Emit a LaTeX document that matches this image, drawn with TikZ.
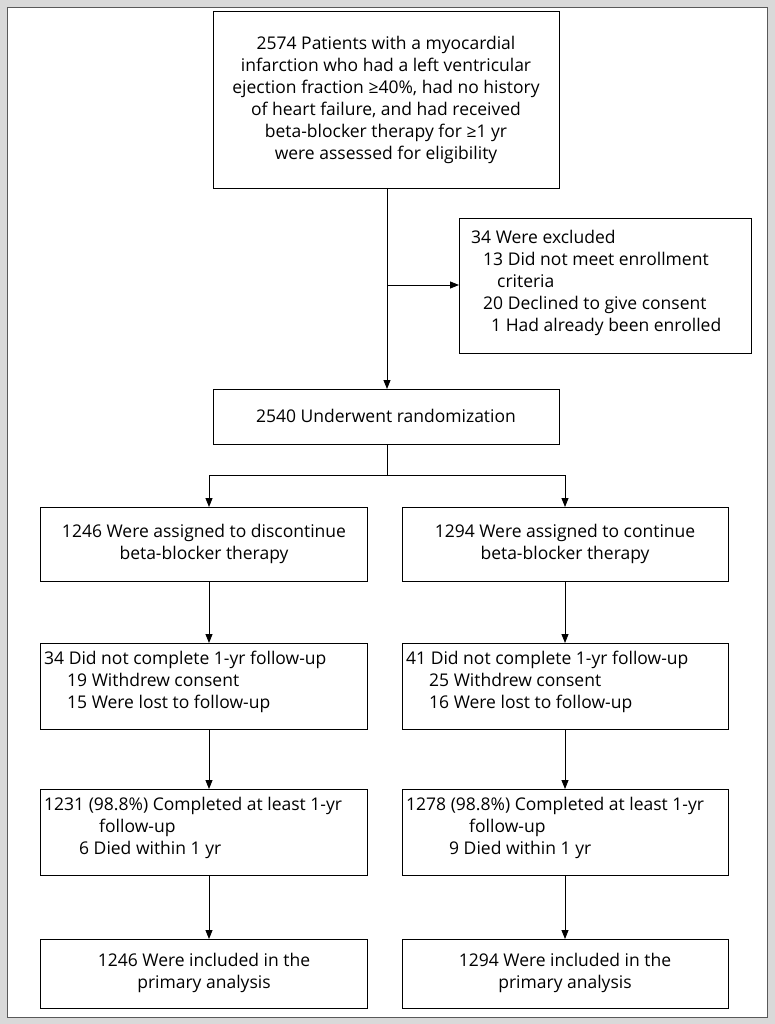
\documentclass[tikz,border=0pt]{standalone}
\usepackage{fontspec}
\setmainfont{Open Sans}
\usetikzlibrary{arrows.meta}
\begin{document}
\begin{tikzpicture}[x=1pt,y=-1pt,
  box/.style={draw=black,line width=0.9pt,fill=white},
  txt/.style={font=\fontsize{17.5}{22}\selectfont,align=center,inner sep=0pt},
  ltxt/.style={font=\fontsize{17.5}{22}\selectfont,align=left,inner sep=0pt,anchor=north west},
  arr/.style={line width=0.9pt,-{Triangle[length=9pt,width=7pt]}},
  ln/.style={line width=0.9pt}]
\fill[gray!30] (0,0) rectangle (775,1024);
\useasboundingbox (0,0) rectangle (775,1024);
\draw[fill=white,draw=gray!70!black,line width=0.8pt] (7,7) rectangle (767,1017);
% boxes
\draw[box] (213,11) rectangle (559,188);
\node[txt] (top) at (386,100) {2574 Patients with a myocardial\\infarction who had a left ventricular\\ejection fraction ≥40\%, had no history\\of heart failure, and had received\\beta-blocker therapy for ≥1 yr\\were assessed for eligibility};
\coordinate (topb) at (387,188);
\draw[box] (459,218) rectangle (751,353);
\coordinate (exl) at (459,285);
\node[ltxt] (ex) at (471,230) {34 Were excluded\\
\hspace*{12pt}13 Did not meet enrollment\\
\hspace*{26pt}criteria\\
\hspace*{12pt}20 Declined to give consent\\
\hspace*{20pt}1 Had already been enrolled};
\draw[box] (213,389) rectangle (559,444);
\node[txt] (rand) at (386,416) {2540 Underwent randomization};
\coordinate (randt) at (387,389);
\coordinate (randb) at (387,444);
\coordinate (br) at (387,285);
\coordinate (sp) at (387,475);
\coordinate (spl) at (209,475);
\coordinate (spr) at (565,475);
% row1
\draw[box] (40,507) rectangle (367,581);
\node[txt] (l1) at (204,544) {1246 Were assigned to discontinue\\beta-blocker therapy};
\draw[box] (402,507) rectangle (728,581);
\node[txt] (r1) at (565,544) {1294 Were assigned to continue\\beta-blocker therapy};
% row2
\draw[box] (40,643) rectangle (367,729);
\node[ltxt] (l2) at (44,651) {34 Did not complete 1-yr follow-up\\\hspace*{23pt}19 Withdrew consent\\\hspace*{23pt}15 Were lost to follow-up};
\draw[box] (402,643) rectangle (728,729);
\node[ltxt] (r2) at (406,651) {41 Did not complete 1-yr follow-up\\\hspace*{23pt}25 Withdrew consent\\\hspace*{23pt}16 Were lost to follow-up};
% row3
\draw[box] (40,789) rectangle (367,875);
\node[ltxt] (l3) at (44,797) {1231 (98.8\%) Completed at least 1-yr\\\hspace*{55pt}follow-up\\\hspace*{35pt}6 Died within 1 yr};
\draw[box] (402,789) rectangle (728,875);
\node[ltxt] (r3) at (406,797) {1278 (98.8\%) Completed at least 1-yr\\\hspace*{63pt}follow-up\\\hspace*{43pt}9 Died within 1 yr};
% row4
\draw[box] (40,939) rectangle (367,1008);
\node[txt] (l4) at (204,973) {1246 Were included in the\\primary analysis};
\draw[box] (402,939) rectangle (728,1008);
\node[txt] (r4) at (565,973) {1294 Were included in the\\primary analysis};
% connectors
\draw[arr] (topb) -- (randt);
\draw[arr] (br) -- (exl);
\draw[ln] (randb) -- (sp);
\draw[ln] (spl) -- (spr);
\draw[arr] (spl) -- (209,507);
\draw[arr] (spr) -- (565,507);
\draw[arr] (209,581) -- (209,643);
\draw[arr] (565,581) -- (565,643);
\draw[arr] (209,729) -- (209,789);
\draw[arr] (565,729) -- (565,789);
\draw[arr] (209,875) -- (209,939);
\draw[arr] (565,875) -- (565,939);
\end{tikzpicture}
\end{document}
